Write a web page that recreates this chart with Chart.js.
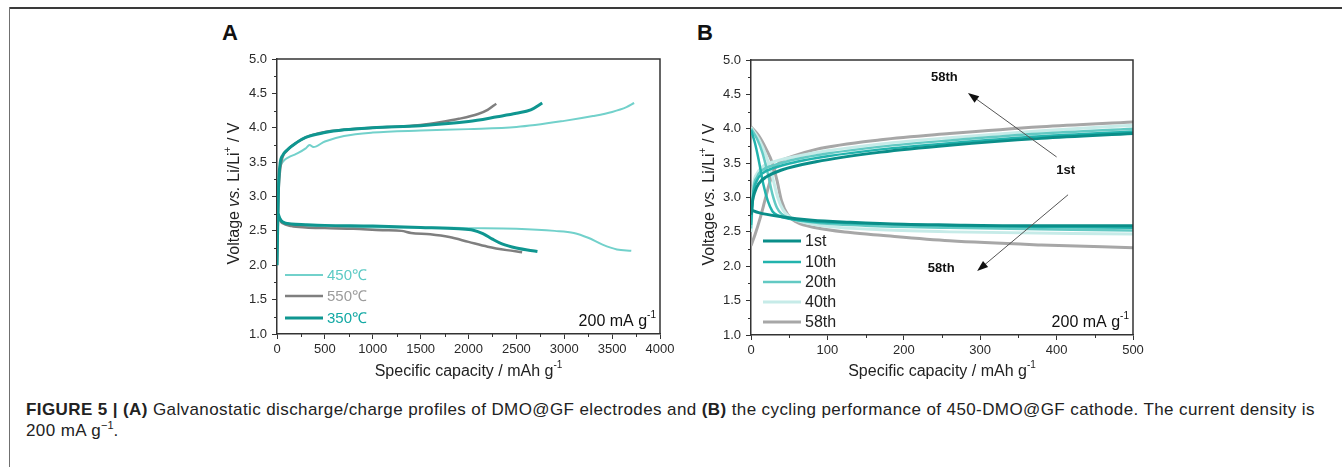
<!DOCTYPE html>
<html>
<head>
<meta charset="utf-8">
<script src="https://cdn.jsdelivr.net/npm/chart.js@4.4.1/dist/chart.umd.min.js"></script>
<style>
html, body { margin: 0; padding: 0; background: #fff; }
body { width: 1342px; height: 467px; position: relative; overflow: hidden; font-family: "Liberation Sans", Arial, sans-serif; }
#frameTop { position: absolute; left: 9px; top: 7px; width: 1333px; height: 2px; background: #3a3a3a; }
#frameLeft { position: absolute; left: 9px; top: 7px; width: 1px; height: 460px; background: #707070; }
.panel { position: absolute; top: 0; width: 480px; height: 390px; }
.tag { position: absolute; top: 20px; font: bold 22px "Liberation Sans", Arial, sans-serif; color: #111; }
#caption { position: absolute; left: 26px; top: 399px; font-size: 17px; line-height: 21px; color: #222; white-space: nowrap; letter-spacing: 0.4px; }
#caption sup { font-size: 11px; line-height: 0; letter-spacing: 0; }
</style>
</head>
<body>
<div id="frameTop"></div>
<div id="frameLeft"></div>
<div class="tag" style="left:222px">A</div>
<div class="tag" style="left:697px">B</div>
<div class="panel" style="left:200px"><canvas id="chartA" width="480" height="390"></canvas></div>
<div class="panel" style="left:680px"><canvas id="chartB" width="480" height="390"></canvas></div>
<div id="caption"><b>FIGURE 5 | (A)</b> Galvanostatic discharge/charge profiles of DMO@GF electrodes and <b>(B)</b> the cycling performance of 450-DMO@GF cathode. The current density is<br>200 mA g<sup>−1</sup>.</div>

<script>
// ---- panel A: first charge/discharge of the three annealing temperatures ----
var labelsA = ['450℃', '550℃', '350℃'];

var capA450Chg = [0, 8, 20, 40, 70, 120, 200, 300, 340, 380, 500, 700, 1000, 1500, 2000, 2500, 3000, 3300, 3500, 3650, 3730];
var voltA450Chg = [2.0, 2.8, 3.3, 3.45, 3.52, 3.57, 3.62, 3.7, 3.75, 3.72, 3.8, 3.88, 3.93, 3.96, 3.98, 4.01, 4.1, 4.17, 4.23, 4.3, 4.36];
var capA450Dis = [10, 30, 60, 150, 300, 500, 1000, 1500, 2000, 2500, 2900, 3100, 3250, 3400, 3550, 3700];
var voltA450Dis = [2.75, 2.68, 2.63, 2.6, 2.57, 2.56, 2.55, 2.55, 2.54, 2.53, 2.5, 2.47, 2.4, 2.3, 2.23, 2.21];

var capA550Chg = [0, 15, 30, 60, 100, 150, 300, 500, 700, 1000, 1300, 1500, 1700, 1900, 2100, 2200, 2290];
var voltA550Chg = [2.0, 3.0, 3.35, 3.58, 3.66, 3.73, 3.86, 3.94, 3.97, 4.0, 4.02, 4.04, 4.08, 4.13, 4.2, 4.26, 4.35];
var capA550Dis = [10, 30, 60, 150, 300, 500, 800, 1100, 1300, 1400, 1600, 1800, 2000, 2200, 2400, 2560];
var voltA550Dis = [2.75, 2.66, 2.61, 2.57, 2.55, 2.54, 2.53, 2.51, 2.5, 2.47, 2.45, 2.41, 2.34, 2.27, 2.22, 2.19];

var capA350Chg = [0, 15, 30, 60, 100, 200, 300, 500, 700, 1000, 1500, 2000, 2300, 2500, 2650, 2770];
var voltA350Chg = [2.0, 3.1, 3.45, 3.6, 3.67, 3.78, 3.86, 3.93, 3.97, 4.0, 4.03, 4.09, 4.16, 4.21, 4.26, 4.36];
var capA350Dis = [10, 30, 60, 150, 300, 500, 1000, 1500, 1900, 2050, 2150, 2250, 2350, 2500, 2720];
var voltA350Dis = [2.76, 2.68, 2.63, 2.6, 2.59, 2.58, 2.57, 2.55, 2.53, 2.51, 2.46, 2.38, 2.31, 2.25, 2.2];

// ---- panel B: 450-DMO@GF over cycling ----
var labelsB = ['1st', '10th', '20th', '40th', '58th'];

var capB1Chg = [0, 2, 5, 10, 20, 40, 85, 170, 260, 380, 500];
var voltB1Chg = [2.75, 2.95, 3.08, 3.2, 3.3, 3.4, 3.52, 3.66, 3.76, 3.86, 3.93];
var capB1Dis = [0, 10, 40, 80, 130, 200, 260, 350, 500];
var voltB1Dis = [2.82, 2.78, 2.72, 2.67, 2.64, 2.61, 2.6, 2.59, 2.59];

var capB10Chg = [0, 3, 8, 15, 30, 60, 100, 170, 260, 380, 500];
var voltB10Chg = [2.6, 3.05, 3.25, 3.35, 3.43, 3.52, 3.6, 3.7, 3.79, 3.89, 3.96];
var capB10Dis = [0, 5, 10, 16, 22, 28, 35, 50, 80, 150, 260, 500];
var voltB10Dis = [3.98, 3.8, 3.55, 3.2, 2.95, 2.8, 2.74, 2.69, 2.65, 2.62, 2.59, 2.56];

var capB20Chg = [0, 3, 8, 15, 30, 60, 100, 170, 260, 380, 500];
var voltB20Chg = [2.55, 3.1, 3.3, 3.4, 3.47, 3.56, 3.64, 3.74, 3.83, 3.93, 4.0];
var capB20Dis = [0, 8, 15, 22, 28, 34, 40, 50, 80, 150, 260, 500];
var voltB20Dis = [4.0, 3.85, 3.65, 3.35, 3.05, 2.85, 2.76, 2.7, 2.64, 2.59, 2.56, 2.52];

var capB40Chg = [0, 3, 8, 15, 30, 60, 100, 170, 260, 380, 500];
var voltB40Chg = [2.5, 3.15, 3.35, 3.45, 3.52, 3.6, 3.68, 3.78, 3.87, 3.97, 4.05];
var capB40Dis = [0, 10, 20, 28, 35, 42, 50, 65, 100, 170, 260, 500];
var voltB40Dis = [4.02, 3.85, 3.6, 3.3, 3.0, 2.82, 2.72, 2.65, 2.58, 2.53, 2.5, 2.47];

var capB58Chg = [0, 5, 12, 18, 24, 30, 38, 55, 85, 170, 260, 380, 500];
var voltB58Chg = [2.3, 2.45, 2.7, 2.95, 3.2, 3.4, 3.52, 3.6, 3.7, 3.84, 3.93, 4.03, 4.1];
var capB58Dis = [0, 10, 20, 28, 34, 40, 48, 60, 85, 130, 170, 260, 380, 500];
var voltB58Dis = [4.03, 3.9, 3.7, 3.5, 3.25, 2.95, 2.75, 2.64, 2.56, 2.49, 2.45, 2.37, 2.31, 2.27];

// axis ticks
var voltTicks = [1.0, 1.5, 2.0, 2.5, 3.0, 3.5, 4.0, 4.5, 5.0];
var capTicksA = [0, 500, 1000, 1500, 2000, 2500, 3000, 3500, 4000];
var capTicksB = [0, 100, 200, 300, 400, 500];

var FONT = '"Liberation Sans", Arial, sans-serif';

function pts(cap, volt) {
    return cap.map(function (c, i) { return { x: c, y: volt[i] }; });
}

// charge branch, a break, then discharge branch
function profile(capChg, voltChg, capDis, voltDis) {
    return pts(capChg, voltChg)
        .concat([{ x: capChg[capChg.length - 1], y: null }])
        .concat(pts(capDis, voltDis));
}

function line(label, data, color, width, order) {
    return {
        label: label,
        data: data,
        borderColor: color,
        backgroundColor: color,
        borderWidth: width,
        pointRadius: 0,
        fill: false,
        spanGaps: false,
        cubicInterpolationMode: 'monotone',
        order: order
    };
}

function fontStr(style, size) {
    if (style === 'b') return 'bold ' + size + 'px ' + FONT;
    if (style === 'i') return 'italic ' + size + 'px ' + FONT;
    if (style === 'sup') return Math.round(size * 0.62) + 'px ' + FONT;
    return size + 'px ' + FONT;
}

// runs = [[text, style], ...]; draws around x by align
function drawRuns(ctx, runs, x, y, size, align, color) {
    var w = 0;
    runs.forEach(function (r) { ctx.font = fontStr(r[1], size); w += ctx.measureText(r[0]).width; });
    var cx = align === 'center' ? x - w / 2 : (align === 'right' ? x - w : x);
    ctx.fillStyle = color || '#222';
    ctx.textAlign = 'left';
    ctx.textBaseline = 'middle';
    runs.forEach(function (r) {
        ctx.font = fontStr(r[1], size);
        ctx.fillText(r[0], cx, r[1] === 'sup' ? y - size * 0.42 : y);
        cx += ctx.measureText(r[0]).width;
    });
}

var yTitleRuns = [['Voltage ', ''], ['vs.', 'i'], [' Li/Li', ''], ['+', 'sup'], [' / V', '']];
var xTitleRuns = [['Specific capacity / mAh g', ''], ['-1', 'sup']];
var rateRuns = [['200 mA g', ''], ['-1', 'sup']];

// frame, minor ticks, titles, in-plot legend, notes and arrows
function makeExtras(cfg) {
    return {
        id: 'panelExtras',
        afterDatasetsDraw: function (chart) {
            var ctx = chart.ctx;
            var a = chart.chartArea;
            var xs = chart.scales.x, ys = chart.scales.y;
            ctx.save();

            // top + right of the box
            ctx.strokeStyle = '#333';
            ctx.lineWidth = 1.5;
            ctx.beginPath();
            ctx.moveTo(a.left, a.top);
            ctx.lineTo(a.right, a.top);
            ctx.lineTo(a.right, a.bottom);
            ctx.stroke();

            // minor ticks
            ctx.lineWidth = 1;
            ctx.beginPath();
            for (var v = xs.min + cfg.minorX; v < xs.max; v += cfg.minorX * 2) {
                var px = Math.round(xs.getPixelForValue(v)) + 0.5;
                ctx.moveTo(px, a.bottom);
                ctx.lineTo(px, a.bottom + 3);
            }
            for (var w = ys.min + 0.25; w < ys.max; w += 0.5) {
                var py = Math.round(ys.getPixelForValue(w)) + 0.5;
                ctx.moveTo(a.left, py);
                ctx.lineTo(a.left - 3, py);
            }
            ctx.stroke();

            // axis titles
            drawRuns(ctx, xTitleRuns, (a.left + a.right) / 2, a.bottom + cfg.xTitleGap, 16, 'center', '#222');
            ctx.save();
            ctx.translate(a.left - cfg.yTitleGap, (a.top + a.bottom) / 2 - 3);
            ctx.rotate(-Math.PI / 2);
            drawRuns(ctx, yTitleRuns, 0, 0, 16, 'center', '#222');
            ctx.restore();

            // current density note
            drawRuns(ctx, rateRuns, a.right - 4, a.bottom - 12, 16, 'right', '#111');

            // legend rows inside the plot
            var lg = cfg.legend;
            chart.data.datasets.forEach(function (ds, i) {
                var y = a.bottom - lg.rows[i];
                ctx.strokeStyle = ds.borderColor;
                ctx.lineWidth = ds.borderWidth;
                ctx.beginPath();
                ctx.moveTo(a.left + lg.x1, y);
                ctx.lineTo(a.left + lg.x2, y);
                ctx.stroke();
                ctx.font = lg.size + 'px ' + FONT;
                ctx.fillStyle = lg.colors ? lg.colors[i] : '#222';
                ctx.textAlign = 'left';
                ctx.textBaseline = 'middle';
                ctx.fillText(ds.label, a.left + lg.x2 + 4, y + 1);
            });

            // arrows in data coordinates
            (cfg.arrows || []).forEach(function (ar) {
                var x0 = xs.getPixelForValue(ar[0]), y0 = ys.getPixelForValue(ar[1]);
                var x1 = xs.getPixelForValue(ar[2]), y1 = ys.getPixelForValue(ar[3]);
                var ang = Math.atan2(y1 - y0, x1 - x0);
                ctx.strokeStyle = '#555';
                ctx.lineWidth = 1;
                ctx.beginPath();
                ctx.moveTo(x0, y0);
                ctx.lineTo(x1 - 8 * Math.cos(ang), y1 - 8 * Math.sin(ang));
                ctx.stroke();
                ctx.fillStyle = '#111';
                ctx.beginPath();
                ctx.moveTo(x1, y1);
                ctx.lineTo(x1 - 11 * Math.cos(ang) + 4 * Math.sin(ang), y1 - 11 * Math.sin(ang) - 4 * Math.cos(ang));
                ctx.lineTo(x1 - 11 * Math.cos(ang) - 4 * Math.sin(ang), y1 - 11 * Math.sin(ang) + 4 * Math.cos(ang));
                ctx.closePath();
                ctx.fill();
            });

            // bold cycle labels
            (cfg.notes || []).forEach(function (n) {
                ctx.font = 'bold 13px ' + FONT;
                ctx.fillStyle = '#111';
                ctx.textAlign = 'center';
                ctx.textBaseline = 'middle';
                ctx.fillText(n[0], xs.getPixelForValue(n[1]), ys.getPixelForValue(n[2]));
            });

            ctx.restore();
        }
    };
}

function makeChart(id, datasets, xMax, xTicks, yAxisWidth, pad, extras) {
    var tickFont = { family: FONT, size: 13 };
    return new Chart(document.getElementById(id), {
        type: 'line',
        data: { datasets: datasets },
        options: {
            responsive: false,
            animation: false,
            events: [],
            layout: { padding: pad },
            plugins: { legend: { display: false }, tooltip: { enabled: false } },
            scales: {
                x: {
                    type: 'linear',
                    min: 0,
                    max: xMax,
                    afterBuildTicks: function (scale) { scale.ticks = xTicks.map(function (v) { return { value: v }; }); },
                    afterFit: function (scale) { scale.height = 30; },
                    ticks: { font: tickFont, color: '#2a2a2a', padding: 3, maxRotation: 0, autoSkip: false,
                        callback: function (v) { return v; } },
                    grid: { drawOnChartArea: false, tickLength: 5, tickColor: '#333', tickWidth: 1 },
                    border: { color: '#333', width: 1.5 }
                },
                y: {
                    type: 'linear',
                    min: 1,
                    max: 5,
                    afterBuildTicks: function (scale) { scale.ticks = voltTicks.map(function (v) { return { value: v }; }); },
                    afterFit: function (scale) { scale.width = yAxisWidth; },
                    ticks: { font: tickFont, color: '#2a2a2a', padding: 5, autoSkip: false,
                        callback: function (v) { return Number(v).toFixed(1); } },
                    grid: { drawOnChartArea: false, tickLength: 5, tickColor: '#333', tickWidth: 1 },
                    border: { color: '#333', width: 1.5 }
                }
            }
        },
        plugins: [makeExtras(extras)]
    });
}

makeChart('chartA', [
    line(labelsA[0], profile(capA450Chg, voltA450Chg, capA450Dis, voltA450Dis), '#72d1cb', 2, 2),
    line(labelsA[1], profile(capA550Chg, voltA550Chg, capA550Dis, voltA550Dis), '#7f7f7f', 2.5, 1),
    line(labelsA[2], profile(capA350Chg, voltA350Chg, capA350Dis, voltA350Dis), '#0f9690', 3, 0)
], 4000, capTicksA, 57, { left: 20, right: 20, top: 59, bottom: 26 }, {
    minorX: 250,
    xTitleGap: 38,
    yTitleGap: 42,
    legend: { x1: 8, x2: 46, rows: [59, 38, 16], size: 15, colors: ['#5ccac4', '#9c9c9c', '#13a9a4'] }
});

makeChart('chartB', [
    line(labelsB[0], profile(capB1Chg, voltB1Chg, capB1Dis, voltB1Dis), '#0a8e89', 3, 0),
    line(labelsB[1], profile(capB10Chg, voltB10Chg, capB10Dis, voltB10Dis), '#22b3ad', 2.5, 1),
    line(labelsB[2], profile(capB20Chg, voltB20Chg, capB20Dis, voltB20Dis), '#62c9c3', 2.5, 2),
    line(labelsB[3], profile(capB40Chg, voltB40Chg, capB40Dis, voltB40Dis), '#c6ebe8', 3, 3),
    line(labelsB[4], profile(capB58Chg, voltB58Chg, capB58Dis, voltB58Dis), '#a7a7a7', 3, 4)
], 500, capTicksB, 51, { left: 20, right: 27, top: 60, bottom: 25 }, {
    minorX: 50,
    xTitleGap: 37,
    yTitleGap: 41,
    legend: { x1: 12, x2: 50, rows: [94, 73, 53, 33, 13], size: 16 },
    arrows: [[400, 3.59, 284, 4.52], [415, 3.04, 296, 1.93]],
    notes: [['58th', 253, 4.74], ['1st', 412, 3.4], ['58th', 249, 1.97]]
});
</script>
</body>
</html>
